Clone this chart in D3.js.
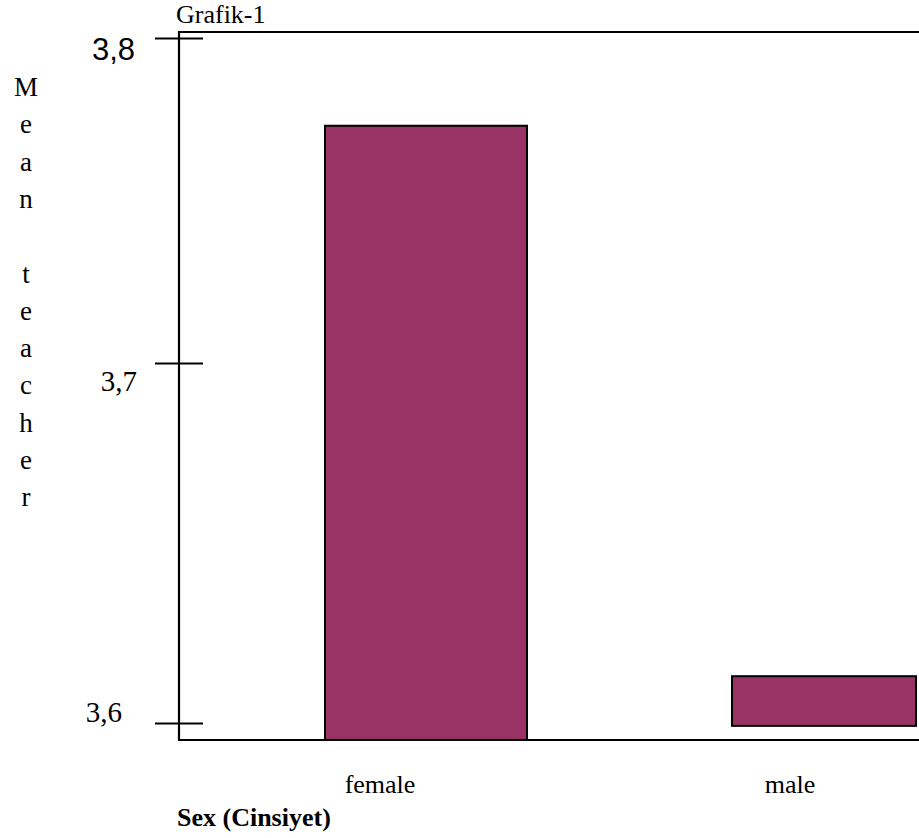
<!DOCTYPE html>
<html><head><meta charset="utf-8">
<script src="https://cdn.jsdelivr.net/npm/d3@7"></script>
<style>body{margin:0;background:#fff;} svg{display:block;}</style>
</head><body><div id="chart"></div>
<script>
const categories = ["female", "male"];
const meanValues = [3.773, 3.613];
const barBase = [3.5953, 3.5992];
const tickValues = [3.6, 3.7, 3.8];
const tickLabels = ["3,6", "3,7", "3,8"];
const chartTitle = "Grafik-1";
const yTitle = "Mean teacher";
const xTitle = "Sex (Cinsiyet)";

const W = 919, H = 838;
const svg = d3.select("#chart").append("svg").attr("width", W).attr("height", H);

const frame = {left: 179, top: 32, right: 925, bottom: 740};
const y = d3.scaleLinear().domain([3.6, 3.7, 3.8]).range([723, 363, 38]);
const x = d3.scaleBand().domain(categories).range([325, 325 + 2 * 407]).padding(0);
const bw = 202;
const xl = d3.scalePoint().domain(categories).range([380, 790]);

const serif = "'Liberation Serif','Times New Roman',serif";
const sans = "'Liberation Sans',Arial,sans-serif";

// bars
svg.selectAll("rect.bar").data(categories).join("rect")
  .attr("class", "bar")
  .attr("x", (d) => x(d))
  .attr("y", (d, i) => y(meanValues[i]))
  .attr("width", (d) => Math.min(bw, W - 3 - x(d)))
  .attr("height", (d, i) => y(barBase[i]) - y(meanValues[i]))
  .attr("fill", "#993366").attr("stroke", "#000").attr("stroke-width", 2);

// frame
svg.append("path")
  .attr("d", `M${frame.right},${frame.top}H${frame.left}V${frame.bottom}H${frame.right}`)
  .attr("fill", "none").attr("stroke", "#000").attr("stroke-width", 2.2);

// y axis ticks
const axis = d3.axisLeft(y).tickValues(tickValues).tickSize(24).tickFormat((d, i) => tickLabels[i]);
const gA = svg.append("g").attr("transform", `translate(${frame.left},0)`).call(axis);
gA.select(".domain").remove();
gA.selectAll(".tick line").attr("x1", -24).attr("x2", 24).attr("stroke", "#000").attr("stroke-width", 1.8);
const labelDy = {"3.6": -12, "3.7": 17, "3.8": 11};
const labelX = {"3.6": 122, "3.7": 137, "3.8": 135};
gA.selectAll(".tick text")
  .attr("x", (d) => labelX[d] - frame.left)
  .attr("dy", (d) => (labelDy[d] + 0.35 * 30) + "px")
  .attr("text-anchor", "end")
  .attr("fill", "#000")
  .style("font-family", (d) => d === 3.8 ? sans : serif)
  .style("font-size", (d) => d === 3.8 ? "31px" : "29px");

// category labels
svg.selectAll("text.cat").data(categories).join("text")
  .attr("class", "cat")
  .attr("x", (d) => xl(d)).attr("y", 793)
  .attr("text-anchor", "middle")
  .style("font-family", serif).style("font-size", "26px")
  .text((d) => d);

// title
svg.append("text").attr("x", 176).attr("y", 23)
  .style("font-family", serif).style("font-size", "26px").text(chartTitle);

// x title
svg.append("text").attr("x", 177).attr("y", 826)
  .style("font-family", serif).style("font-size", "26px").style("font-weight", "bold").text(xTitle);

// vertical stacked y title
const letters = yTitle.split("");
svg.selectAll("text.yl").data(letters).join("text")
  .attr("class", "yl")
  .attr("x", 26).attr("y", (d, i) => 96 + i * 37.3)
  .attr("text-anchor", "middle")
  .style("font-family", serif).style("font-size", "27px")
  .text((d) => d);
</script></body></html>
